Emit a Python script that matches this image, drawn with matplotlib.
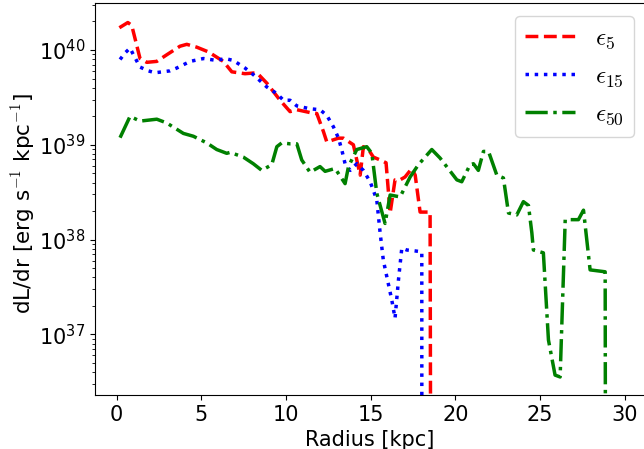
import matplotlib
matplotlib.use("Agg")
import matplotlib.pyplot as plt
import numpy as np

plt.rcParams['mathtext.fontset'] = 'cm'

# radius [kpc] and log10(dL/dr)
r_5 = [0.16, 0.66, 0.89, 1.38, 1.78, 2.37, 2.96, 3.74, 4.14, 4.73, 5.42, 6.30, 6.80,
       7.58, 8.28, 8.87, 9.65, 10.24, 10.64, 11.42, 11.82, 12.21, 12.41, 13.10, 13.39,
       13.98, 14.38, 14.57, 14.87, 15.16, 15.56, 15.91, 16.15, 16.44, 16.74, 17.03,
       17.43, 17.63, 17.92, 18.51, 18.61, 29.7]
logL_5 = [40.235, 40.29, 40.26, 39.91, 39.87, 39.88, 39.95, 40.04, 40.06, 40.03, 39.98,
          39.88, 39.77, 39.75, 39.76, 39.65, 39.47, 39.35, 39.37, 39.34, 39.33, 39.14,
          39.03, 39.07, 39.07, 39.0, 38.68, 38.98, 38.95, 38.87, 38.84, 38.81, 38.28,
          38.63, 38.63, 38.66, 38.75, 38.68, 38.29, 38.29, 30.0, 30.0]

r_15 = [0.20, 0.50, 0.79, 0.99, 1.38, 1.87, 2.27, 3.15, 3.55, 4.34, 5.12, 5.91, 6.40,
        6.89, 7.58, 8.07, 8.87, 9.46, 9.85, 10.24, 10.64, 11.42, 12.01, 12.41, 12.80,
        13.10, 13.29, 13.49, 13.79, 14.18, 14.57, 14.97, 15.36, 15.56, 15.75, 16.25,
        16.44, 16.64, 16.84, 17.13, 17.63, 18.02, 18.03, 29.7]
logL_15 = [39.90, 39.97, 40.02, 39.95, 39.82, 39.78, 39.76, 39.78, 39.81, 39.88, 39.91,
           39.89, 39.91, 39.89, 39.81, 39.74, 39.61, 39.54, 39.47, 39.47, 39.41, 39.38,
           39.37, 39.31, 39.19, 39.07, 38.95, 38.80, 38.73, 38.80, 38.73, 38.61, 38.42,
           38.07, 37.78, 37.36, 37.17, 37.57, 37.91, 37.89, 37.88, 37.87, 30.0, 30.0]

r_50 = [0.20, 0.79, 1.38, 2.37, 2.96, 3.94, 4.53, 5.32, 5.91, 6.50, 6.70, 7.48, 8.07,
        8.57, 9.16, 9.46, 9.75, 10.24, 10.64, 10.93, 11.42, 12.01, 12.31, 12.90, 13.49,
        13.69, 14.18, 14.77, 15.07, 15.36, 15.85, 16.15, 16.74, 17.33, 17.82, 18.61,
        19.10, 20.09, 20.38, 20.87, 21.07, 21.36, 21.66, 21.96, 22.45, 22.84, 23.14,
        23.63, 24.02, 24.32, 24.52, 24.61, 25.20, 25.50, 25.89, 26.19, 26.49, 27.27,
        27.57, 27.96, 28.85, 28.91, 29.7]
logL_50 = [39.075, 39.30, 39.25, 39.27, 39.23, 39.12, 39.09, 39.02, 38.95, 38.91, 38.92,
           38.87, 38.80, 38.73, 38.79, 38.98, 39.02, 39.01, 39.01, 38.84, 38.71, 38.77,
           38.72, 38.75, 38.59, 38.77, 38.95, 38.98, 38.91, 38.49, 38.17, 38.47, 38.45,
           38.66, 38.79, 38.95, 38.86, 38.63, 38.61, 38.79, 38.80, 38.73, 38.93, 38.93,
           38.68, 38.65, 38.28, 38.26, 38.40, 38.36, 38.07, 37.89, 37.86, 36.94, 36.57,
           36.55, 38.21, 38.21, 38.31, 37.68, 37.66, 30.0, 30.0]

fig = plt.figure(figsize=(6.44, 4.49), dpi=100)
ax = fig.add_axes([0.1475, 0.1203, 0.854, 0.873])

ax.semilogy(r_5, 10.0 ** np.array(logL_5), 'r--', lw=2.5, label=r'$\epsilon_5$')
ax.semilogy(r_15, 10.0 ** np.array(logL_15), 'b:', lw=2.5, label=r'$\epsilon_{15}$')
ax.semilogy(r_50, 10.0 ** np.array(logL_50), 'g-.', lw=2.5, label=r'$\epsilon_{50}$')

ax.set_xlim(-1.28, 31.2)
ax.set_ylim(10 ** 36.36, 10 ** 40.496)
ax.set_xticks([0, 5, 10, 15, 20, 25, 30])
ax.tick_params(labelsize=15)
ax.set_xlabel('Radius [kpc]', fontsize=15)
ax.set_ylabel(r'dL/dr [erg s$^{-1}$ kpc$^{-1}$]', fontsize=15.5)
ax.yaxis.set_label_coords(37 / 644, 1 - 204 / 449, transform=fig.transFigure)

ax.legend(loc='upper right', bbox_to_anchor=(634 / 644, 1 - 16 / 449),
          bbox_transform=fig.transFigure, fontsize=18, borderaxespad=0)

fig.savefig('out.png', dpi=100)
